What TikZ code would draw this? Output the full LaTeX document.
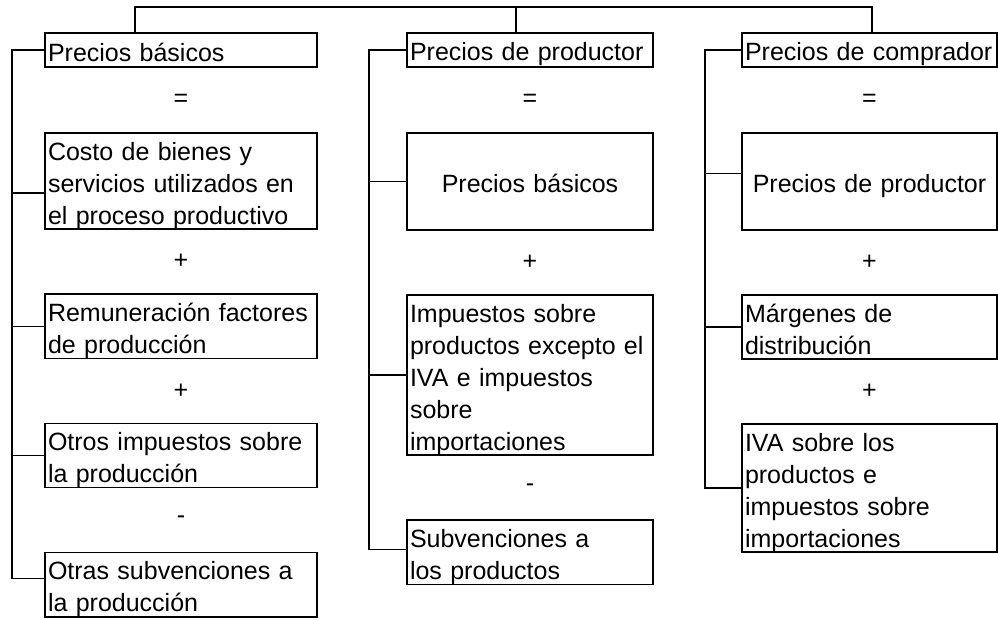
\documentclass[tikz,border=0pt]{standalone}
\usepackage{fontspec}
\setmainfont{Liberation Sans}
\usetikzlibrary{positioning}
\newcommand{\lin}[1]{\rule{0pt}{27pt}#1\rule[-5pt]{0pt}{5pt}}

\begin{document}
\begin{tikzpicture}[x=1pt,y=-1pt,
	caja/.style={draw, line width=1.6pt, outer sep=0pt, inner xsep=3pt, inner ysep=0pt, align=left, font=\fontsize{25}{32}\selectfont},
	cabeza/.style={caja, minimum height=34pt},
	signo/.style={inner sep=0pt, font=\fontsize{25}{32}\selectfont},
	enlace/.style={line width=1.4pt}]
	\useasboundingbox (0,0) rectangle (998,619);
	%Precios basicos
	\node[cabeza, text width=266pt, anchor=north west] (hA) at (45,33) {\lin{Precios básicos}};
	\node[signo, below=33pt of hA, anchor=center] (sA1) {=};
	\node[caja, text width=266pt, below=33pt of sA1.center] (bA2) {\lin{Costo de bienes y\\ servicios utilizados en\\ el proceso productivo}};
	\node[signo, below=32.5pt of bA2, anchor=center] (sA2) {+};
	\node[caja, text width=266pt, below=32.5pt of sA2.center] (bA3) {\lin{Remuneración factores\\ de producción}};
	\node[signo, below=32.5pt of bA3, anchor=center] (sA3) {+};
	\node[caja, text width=266pt, below=32.5pt of sA3.center] (bA4) {\lin{Otros impuestos sobre\\ la producción}};
	\node[signo, below=32.5pt of bA4, anchor=center] (sA4) {-};
	\node[caja, text width=266pt, below=32.5pt of sA4.center] (bA5) {\lin{Otras subvenciones a\\ la producción}};
	%Precios de productor
	\node[cabeza, text width=240pt, anchor=north west] (hB) at (407,33) {\lin{Precios de productor}};
	\node[signo, below=33pt of hB, anchor=center] (sB1) {=};
	\node[caja, text width=240pt, align=center, minimum height=97pt, below=33pt of sB1.center] (bB2) {\lin{Precios básicos}};
	\node[signo, below=32.5pt of bB2, anchor=center] (sB2) {+};
	\node[caja, text width=240pt, below=32.5pt of sB2.center] (bB3) {\lin{Impuestos sobre\\ productos excepto el\\ IVA e impuestos\\ sobre\\ importaciones}};
	\node[signo, below=32.5pt of bB3, anchor=center] (sB3) {-};
	\node[caja, text width=240pt, below=32.5pt of sB3.center] (bB4) {\lin{Subvenciones a\\ los productos}};
	%Precios de comprador
	\node[cabeza, text width=249pt, anchor=north west] (hC) at (742,33) {\lin{Precios de comprador}};
	\node[signo, below=33pt of hC, anchor=center] (sC1) {=};
	\node[caja, text width=249pt, align=center, minimum height=97pt, below=33pt of sC1.center] (bC2) {\lin{Precios de productor}};
	\node[signo, below=32.5pt of bC2, anchor=center] (sC2) {+};
	\node[caja, text width=249pt, below=32.5pt of sC2.center] (bC3) {\lin{Márgenes de\\ distribución}};
	\node[signo, below=32.5pt of bC3, anchor=center] (sC3) {+};
	\node[caja, text width=249pt, below=32.5pt of sC3.center] (bC4) {\lin{IVA sobre los\\ productos e\\ impuestos sobre\\ importaciones}};
	%Barra superior
	\coordinate (tA) at (135,7);
	\coordinate (tB) at (516,7);
	\coordinate (tC) at (872,7);
	\draw[enlace] (hA.north -| tA) -- (tA) -- (tC) -- (hC.north -| tC);
	\draw[enlace] (tB) -- (hB.north -| tB);
	%Corchetes
	\coordinate (vA) at (12,0);
	\coordinate (vB) at (369,0);
	\coordinate (vC) at (705,0);
	\coordinate (pA2) at ([yshift=-12pt]bA2.west);
	\coordinate (pA5) at ([yshift=6pt]bA5.west);
	\coordinate (pB4) at ([yshift=3pt]bB4.west);
	\coordinate (pC2) at ([yshift=8pt]bC2.west);
	\draw[enlace] (hA.west) -| (vA |- pA5) -- (pA5);
	\draw[enlace] (pA2) -- (vA |- pA2);
	\foreach \n in {3,4} \draw[enlace] (bA\n.west) -- (vA |- bA\n.west);
	\draw[enlace] (hB.west) -| (vB |- pB4) -- (pB4);
	\foreach \n in {2,3} \draw[enlace] (bB\n.west) -- (vB |- bB\n.west);
	\draw[enlace] (hC.west) -| (vC |- bC4.west) -- (bC4.west);
	\draw[enlace] (pC2) -- (vC |- pC2);
	\draw[enlace] (bC3.west) -- (vC |- bC3.west);
\end{tikzpicture}
\end{document}
